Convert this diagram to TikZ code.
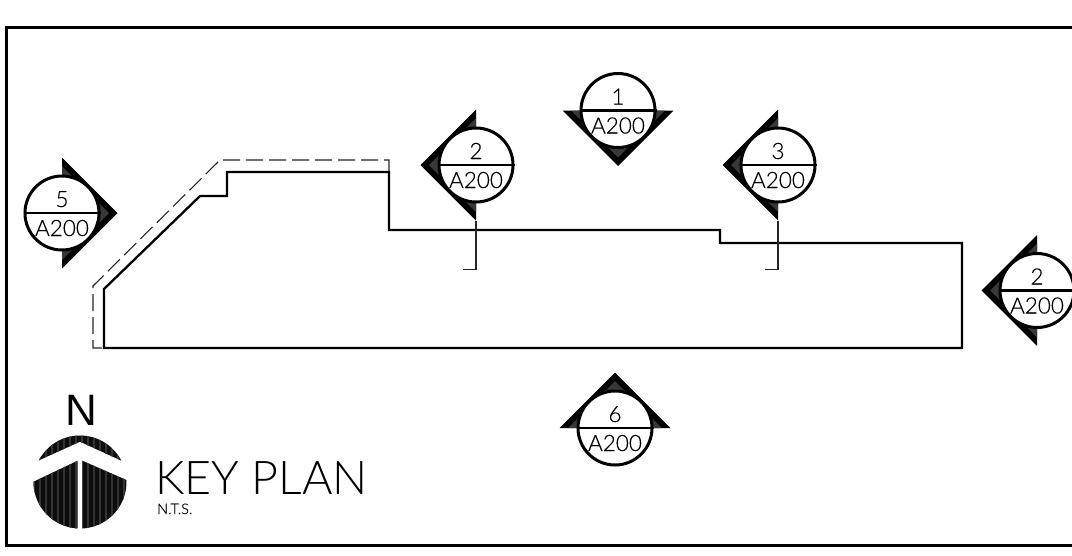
\documentclass[tikz,border=0pt]{standalone}
\usepackage{fontspec}
\setmainfont{Liberation Sans}
\newfontfamily\cadfont{Lato Light}[FakeBold=0.25]
\newfontfamily\titlefont{Lato Light}
\tikzset{
  heavy/.style={line width=3pt,black},
  outline/.style={line width=2.3pt,black,line join=miter},
  thinline/.style={line width=1.1pt,black!85},
  dashline/.style={thinline,dash pattern=on 17pt off 6pt},
  markcircle/.style={circle,draw=black,line width=3pt,fill=white,minimum size=74pt,inner sep=0pt},
  marktext/.style={anchor=base,inner sep=0pt,font=\cadfont\fontsize{22.5}{23}\selectfont},
}
\newcommand{\secmark}[5]{%
  \begin{scope}[shift={(#2,#3)},rotate=#5]
    \fill[black] (55.5,0) -- (0,55.5) -- (0,-55.5) -- cycle;
    \fill[black!78] (47,0) -- (0,47) -- (0,-47) -- cycle;
  \end{scope}
  \node[markcircle] (#1) at (#2,#3) {};
  \draw[line width=2.4pt] (#1.west) -- (#1.east);
  \node[marktext] (#1num) at (#2,#3-6) {#4};
  \node[marktext] (#1ref) at (#2,#3+23) {A200};
}
\begin{document}
\begin{tikzpicture}[x=1pt,y=-1pt]
\useasboundingbox (0,0) rectangle (1072,555);
\fill[white] (0,0) rectangle (1072,555);
% frame
\coordinate (fa) at (1072,27); \coordinate (fb) at (6,27); \coordinate (fc) at (6,545); \coordinate (fd) at (1072,545);
\draw[heavy,line join=miter] (fa) -- (fb) -- (fc) -- (fd);
% dashed setback
\draw[dashline] (389,172) -- (389,160) -- (220,160) -- (93,286) -- (93,348) -- (104,348);
% building
\draw[outline] (104,348) -- (104,289) -- (200,196) -- (227,196) -- (227,172) -- (389,172) -- (389,230) -- (720,230) -- (720,243) -- (962,243) -- (962,348) -- cycle;
% section leaders
\coordinate (la) at (476,221); \coordinate (lb) at (476,269.5); \coordinate (lc) at (463,269.5);
\coordinate (ra) at (778,221); \coordinate (rb) at (778,269.5); \coordinate (rc) at (765,269.5);
\draw[thinline] (la) -- (lb) -- (lc);
\draw[thinline] (ra) -- (rb) -- (rc);
% markers
\secmark{mone}{618}{110.5}{1}{270}
\secmark{mtwo}{476}{165}{2}{180}
\secmark{mthree}{778}{165}{3}{180}
\secmark{mfive}{62}{213}{5}{0}
\secmark{mtwor}{1037}{290.5}{2}{180}
\secmark{msix}{615}{428}{6}{90}
% north arrow
\def\capshape{(80,441.7) -- (38.5,460.5) -- plot[domain=-152:-28,samples=40] ({80+46.5*cos(\x)},{482+46.5*sin(\x)}) -- (121,460.5) -- cycle}
\def\leftshape{(77.7,460.7) -- (33.5,481.7) -- plot[domain=180:93,samples=40] ({80+46.5*cos(\x)},{482+46.5*sin(\x)}) -- cycle}
\def\rightshape{(82.3,460.7) -- (126.5,480) -- plot[domain=-2:87,samples=40] ({80+46.5*cos(\x)},{482+46.5*sin(\x)}) -- cycle}
\foreach \shp in {\capshape,\leftshape,\rightshape}{
  \begin{scope}
    \expandafter\clip\shp;
    \fill[black!95] (30,430) rectangle (130,530);
    \foreach \sx in {34,40,...,130}{\draw[black!80,line width=1.6pt] (\sx,430) -- (\sx,530);}
  \end{scope}
}
\node[anchor=base,inner sep=0pt,font=\fontsize{44}{44}\selectfont] (north) at (81,425) {N};
% title
\node[anchor=base west,inner sep=0pt,font=\titlefont\fontsize{46.5}{47}\selectfont] (title) at (155,494) {KEY PLAN};
\node[anchor=base west,inner sep=0pt,font=\cadfont\fontsize{14.5}{15}\selectfont] (nts) at (157,514) {N.T.S.};
\end{tikzpicture}
\end{document}
